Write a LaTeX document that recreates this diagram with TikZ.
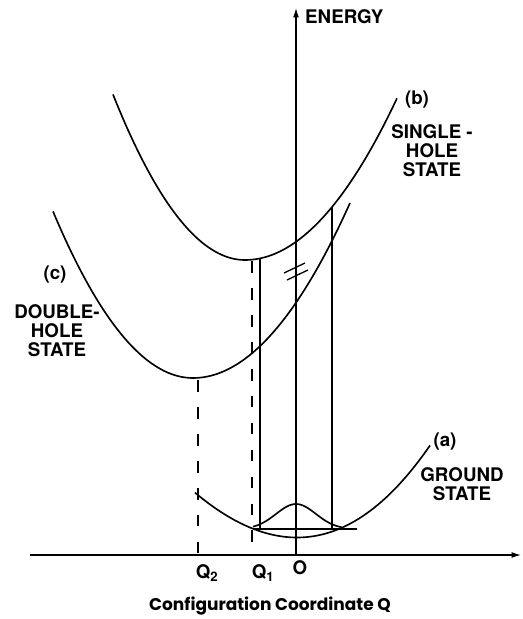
\documentclass[tikz,border=0pt]{standalone}
\usepackage{fontspec}
\setmainfont{TeX Gyre Heros}
\newfontfamily\capfont{Poppins}
\usetikzlibrary{arrows.meta}

\begin{document}
\begin{tikzpicture}[x=0.03cm,y=-0.03cm,
  curve/.style={line width=1.4pt},
  trans/.style={line width=1pt},
  guide/.style={line width=1pt,dash pattern=on 10pt off 13pt},
  lbl/.style={font=\bfseries\fontsize{16}{16.2}\selectfont,align=center,inner sep=0pt},
  declare function={sq(\t)=(\t)*(\t);}]
  \useasboundingbox (0,0) rectangle (522,619);
  % axes
  \coordinate (O) at (296,555);
  \coordinate (xstart) at (30,555);
  \coordinate (xend) at (521,555);
  \coordinate (ytop) at (296,8);
  \draw[line width=1pt,-{Latex[length=8pt,width=5pt]}] (xstart) -- (xend);
  \draw[line width=1pt,-{Latex[length=8pt,width=5pt]}] (O) -- (ytop);
  \draw[line width=1.1pt] (284,273) -- (305,263);
  \draw[line width=1.1pt] (287,280) -- (308,270);
  % potential curves
  \draw[curve] plot[domain=113:245,samples=40] (\x,{260-95*sq((\x-245)/100)})
    -- plot[domain=245:397,samples=40] (\x,{260-70*sq((\x-245)/100)});
  \draw[curve] plot[domain=53:193,samples=40] (\x,{378-85*sq((\x-193)/100)})
    -- plot[domain=193:350,samples=40] (\x,{378-71*sq((\x-193)/100)});
  \draw[curve] plot[domain=195:430,samples=60]
    (\x,{537.5-47*sq((\x-297)/100)-3.8*sq((\x-297)/100)*(\x-297)/100});
  % level and wave function
  \coordinate (lvlL) at (253,529);
  \coordinate (lvlR) at (357,529);
  \draw[trans] (lvlL) -- (lvlR);
  \draw[curve] plot[domain=253:342,samples=50] (\x,{529-25*exp(-sq((\x-296)/28))});
  % transitions
  \coordinate (bL) at (260,258);
  \coordinate (gL) at (260,529);
  \coordinate (bR) at (332,207);
  \coordinate (gR) at (332,529);
  \draw[trans] (bL) -- (gL);
  \draw[trans] (bR) -- (gR);
  % minima
  \coordinate (Q1top) at (252,261);
  \coordinate (Q1) at (252,555);
  \coordinate (Q2top) at (198,380);
  \coordinate (Q2) at (198,555);
  \draw[guide] (Q1top) -- (Q1);
  \draw[guide] (Q2top) -- (Q2);
  % labels
  \node[lbl,anchor=west] (energy) at (305,17) {ENERGY};
  \node[lbl] (bname) at (417,100) {(b)};
  \node[lbl] (bstate) at (432,151) {SINGLE -\\HOLE\\STATE};
  \node[lbl] (cname) at (55,275) {(c)};
  \node[lbl] (cstate) at (57,331) {DOUBLE-\\HOLE\\STATE};
  \node[lbl] (aname) at (445,442) {(a)};
  \node[lbl] (astate) at (462,484) {GROUND\\STATE};
  \node[lbl] (q2) at (207,573) {Q\textsubscript{2}};
  \node[lbl] (q1) at (263,573) {Q\textsubscript{1}};
  \node[lbl] (oname) at (300,568) {O};
  \node[lbl,font=\capfont\bfseries\fontsize{14.5}{16}\selectfont] (axisname) at (270,606)
    {Configuration Coordinate Q};
\end{tikzpicture}
\end{document}
